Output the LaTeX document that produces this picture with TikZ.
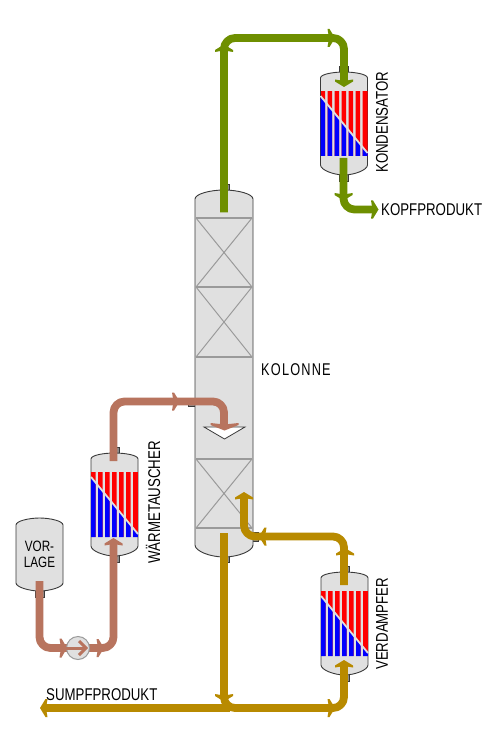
\documentclass[tikz,border=0pt]{standalone}
\usepackage{fontspec}
\setmainfont[FakeStretch=0.78]{Liberation Sans}
\newfontfamily\kolfont[FakeStretch=0.75,LetterSpace=7]{Liberation Sans}
\definecolor{vfill}{HTML}{E0E0E0}
\definecolor{vline}{HTML}{3A3A3A}
\definecolor{pline}{HTML}{9A9A9A}
\definecolor{stubc}{HTML}{8C8C8C}
\definecolor{green1}{HTML}{6E8F00}
\definecolor{brown1}{HTML}{B8745E}
\definecolor{gold1}{HTML}{B88A00}
\tikzset{
  x=1pt,y=-1pt,
  vessel/.style={draw=vline,line width=0.9pt,fill=vfill},
  stub/.style={draw=vline,line width=0.6pt,fill=stubc},
  pipe/.style={line width=7.8pt,rounded corners=11pt,line cap=butt,line join=round},
  lab/.style={inner sep=0pt,font=\fontsize{17}{18}\selectfont,text=black},
  packing/.style={draw=pline,line width=1pt},
  packsep/.style={draw=pline,line width=1.6pt},
}
% heat exchanger: centre x, top y of dome
\newcommand{\hxr}[2]{%
 \begin{scope}[shift={(#1,#2)}]
  \fill[stub,draw=vline] (-4.5,-6) rectangle (4.5,1);
  \fill[stub,draw=vline] (-4.5,102) rectangle (4.5,109);
  \path[vessel] (-23.5,6) .. controls (-23.5,2) and (-10,0) .. (0,0)
     .. controls (10,0) and (23.5,2) .. (23.5,6) -- (23.5,93)
     .. controls (23.5,98) and (10,103) .. (0,103)
     .. controls (-10,103) and (-23.5,98) .. (-23.5,93) -- cycle;
  \begin{scope}
   \clip (-23.5,19) rectangle (-18.8,84) (-16.5,19) rectangle (-11.8,84)
         (-9.5,19) rectangle (-4.8,84) (-2.5,19) rectangle (2.2,84)
         (4.5,19) rectangle (9.2,84) (11.5,19) rectangle (16.2,84)
         (18.5,19) rectangle (23.5,84);
   \fill[red] (-23.5,19) rectangle (23.5,84);
   \fill[blue] (-23.5,24) -- (23.5,81) -- (23.5,84) -- (-23.5,84) -- cycle;
  \end{scope}
  \draw[vfill,line width=1.8pt] (-23.5,24) -- (23.5,81);
 \end{scope}}
% arrow head: x, y of tip, direction, colour, half width
\newcommand{\ahead}[5]{%
 \fill[#4,shift={(#1,#2)},rotate=#3] (0,0) -- (-5.5,#5) -- (-7.5,#5) -- (-6,0) -- (-7.5,-#5) -- (-5.5,-#5) -- cycle;}
\begin{document}
\begin{tikzpicture}
\useasboundingbox[fill=white] (0,0) rectangle (490,735);
% column
\fill[stub] (220,184) rectangle (229,192);
\fill[stub] (220,555) rectangle (229,562);
\fill[stub] (188.5,398) rectangle (196,406);
\fill[stub] (252,532.5) rectangle (258,541);
\path[vessel] (195,199) .. controls (195,194) and (210,190) .. (224,190)
   .. controls (238,190) and (253,194) .. (253,199) -- (253,545)
   .. controls (253,551) and (238,557) .. (224,557)
   .. controls (210,557) and (195,551) .. (195,545) -- cycle;
\foreach \a/\b in {218/287,287/357,459/528}{
  \draw[packing] (196,\a) -- (252,\b) (252,\a) -- (196,\b);
  \draw[packsep] (196,\a) -- (252,\a) (196,\b) -- (252,\b);
}
% distributor
\draw[vline,line width=0.8pt,fill=white] (204,427) -- (245,427) -- (224.5,439) -- cycle;
% exchangers
\hxr{344}{72}
\hxr{114.5}{453}
\hxr{344.5}{572}
% feed vessel
\fill[stub] (35,590) rectangle (44,597);
\path[vessel] (16,525) .. controls (16,521) and (29,518) .. (39.5,518)
   .. controls (50,518) and (63,521) .. (63,525) -- (63,583)
   .. controls (63,587) and (50,591) .. (39.5,591)
   .. controls (29,591) and (16,587) .. (16,583) -- cycle;
\node[lab,font=\fontsize{15}{15.5}\selectfont,align=center] (vorlage) at (39.5,554.5) {VOR-\\[1pt]LAGE};
% named ports
\coordinate (gTop) at (224,212.5);
\coordinate (g1) at (224,38);
\coordinate (g2) at (344,38);
\coordinate (gIn) at (344,84);
\coordinate (gOut) at (343.5,158);
\coordinate (g3) at (343.5,209.5);
\coordinate (gEnd) at (374,209.5);
\coordinate (bOut) at (39.5,581);
\coordinate (b1) at (39.5,648);
\coordinate (b2) at (113.5,648);
\coordinate (bIn) at (113.5,541);
\coordinate (cOut) at (113.5,461);
\coordinate (c1) at (113.5,401.5);
\coordinate (c2) at (224,401.5);
\coordinate (cIn) at (224,426);
\coordinate (dBot) at (224,533);
\coordinate (d1) at (224,708);
\coordinate (d2) at (344,708);
\coordinate (dIn) at (344,663);
\coordinate (dLeft) at (44,708);
\coordinate (eOut) at (344,585);
\coordinate (e1) at (344,536.5);
\coordinate (e2) at (244,536.5);
\coordinate (eIn) at (244,495);
% green
\draw[pipe,green1] (gTop) -- (g1) -- (g2) -- (gIn);
\draw[pipe,green1] (gOut) -- (g3) -- (gEnd);
\ahead{224}{44.5}{90}{green1}{9}
\ahead{335}{38}{0}{green1}{9}
\ahead{344}{87}{270}{green1}{9}
\ahead{343.5}{200.5}{270}{green1}{9}
\ahead{378.5}{209.5}{0}{green1}{9}
% brown
\draw[pipe,brown1] (bOut) -- (b1) -- (b2) -- (bIn);
\draw[pipe,brown1] (cOut) -- (c1) -- (c2) -- (cIn);
\ahead{67}{648}{0}{brown1}{9.5}
\ahead{104}{648}{0}{brown1}{9}
\ahead{113.5}{538}{90}{brown1}{9}
\ahead{179.5}{401.5}{0}{brown1}{9}
\ahead{224.5}{430.5}{270}{brown1}{14}
% pump
\node[circle,draw=pline,line width=1pt,fill=vfill,inner sep=0pt,minimum size=23pt] (pump) at (78,648) {};
\draw[brown1,line width=3pt] (66,648) -- (84,648);
\draw[brown1,line width=3pt,line join=miter] (79,641) -- (86,648) -- (79,655);
% gold
\draw[pipe,gold1] (dBot) -- (d1) -- (d2) -- (dIn);
\draw[pipe,gold1,rounded corners=0pt] (dLeft) -- (230,708);
\draw[pipe,gold1] (eOut) -- (e1) -- (e2) -- (eIn);
\ahead{40}{708}{180}{gold1}{9}
\ahead{224}{701.5}{270}{gold1}{9}
\ahead{335}{708}{0}{gold1}{9}
\ahead{344}{660}{90}{gold1}{9}
\ahead{345}{548}{90}{gold1}{9}
\ahead{259}{536.5}{180}{gold1}{9}
\ahead{244}{492}{90}{gold1}{9}
% labels
\node[lab,anchor=west] (kopf) at (381,209.5) {KOPFPRODUKT};
\node[lab,anchor=west] (sumpf) at (46,695) {SUMPFPRODUKT};
\node[lab,anchor=west,font=\kolfont\fontsize{17}{18}\selectfont] (kolonne) at (261,370) {KOLONNE};
\node[lab,rotate=90,anchor=west] (kond) at (382,173) {KONDENSATOR};
\node[lab,rotate=90,anchor=west] (waerme) at (153,564) {WÄRMETAUSCHER};
\node[lab,rotate=90,anchor=west] (verd) at (382,670) {VERDAMPFER};
\end{tikzpicture}
\end{document}
